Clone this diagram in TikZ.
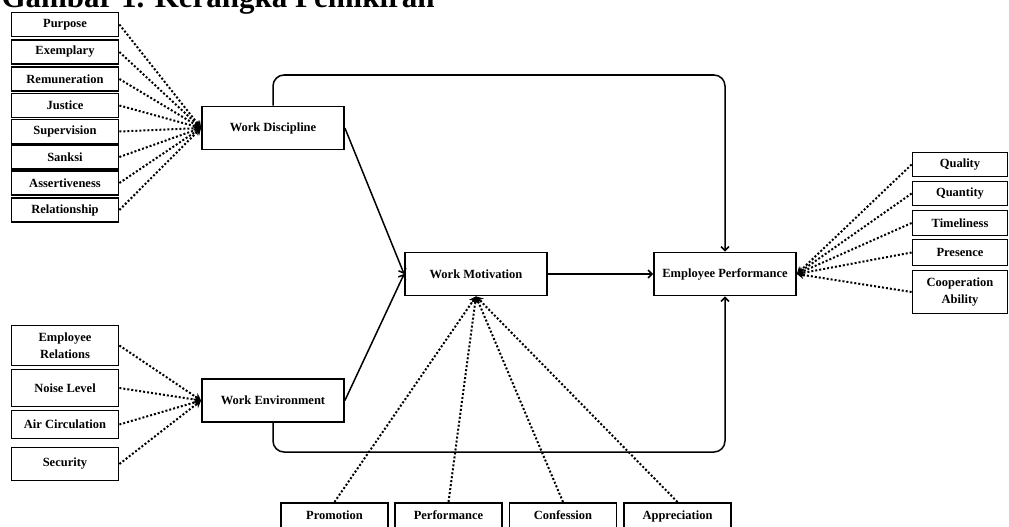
\documentclass[tikz,border=0pt]{standalone}
\usepackage{fontspec}
\setmainfont{Liberation Serif}
\usetikzlibrary{arrows.meta}
\begin{document}
\begin{tikzpicture}[x=1pt,y=-1pt,
        box/.style={draw,line width=1.8pt,inner sep=0pt,align=center,
                font=\bfseries\fontsize{12.5}{17.5}\selectfont},
        ind/.style={box,minimum width=107pt,minimum height=24pt},
        var/.style={box,minimum width=142pt,minimum height=43pt},
        bot/.style={box,minimum width=107pt,anchor=north,inner ysep=4pt,
                text height=13pt,text depth=16pt},
        path/.style={line width=1.5pt,-{Straight Barb[length=4pt,width=8pt]}},
        dots/.style={line width=2pt,dash pattern=on 2pt off 2pt,
                -{Stealth[length=7pt,width=8pt]}}]
                \useasboundingbox (0,0) rectangle (1009,527);
                \clip (0,0) rectangle (1009,527);
                \node[anchor=base west,font=\bfseries\fontsize{31}{31}\selectfont]
                        (title) at (-2,8) {Gambar 1. Kerangka Pemikiran};
                % variables
                \node[var] (wd) at (273,128) {Work Discipline};
                \node[var] (we) at (273,400.5) {Work Environment};
                \node[var] (wm) at (476,274) {Work Motivation};
                \node[var] (ep) at (725,274) {Employee Performance};
                % indicators, work discipline
                \node[ind] (purpose) at (65,24.5) {Purpose};
                \node[ind] (exemplary) at (65,52) {Exemplary};
                \node[ind] (remuneration) at (65,79) {Remuneration};
                \node[ind] (justice) at (65,105.5) {Justice};
                \node[ind] (supervision) at (65,131.5) {Supervision};
                \node[ind] (sanksi) at (65,157) {Sanksi};
                \node[ind] (assertiveness) at (65,183) {Assertiveness};
                \node[ind] (relationship) at (65,210) {Relationship};
                % indicators, work environment
                \node[ind,minimum height=40pt] (relations) at (65,345.5) {Employee\\Relations};
                \node[ind,minimum height=37pt] (noise) at (65,388) {Noise Level};
                \node[ind,minimum height=28pt] (air) at (65,424.5) {Air Circulation};
                \node[ind,minimum height=33pt] (security) at (65,464) {Security};
                % indicators, employee performance
                \node[ind,minimum width=95pt] (quality) at (960,164.5) {Quality};
                \node[ind,minimum width=95pt] (quantity) at (960,193.5) {Quantity};
                \node[ind,minimum width=95pt,minimum height=25pt] (timeliness) at (960,223) {Timeliness};
                \node[ind,minimum width=95pt,minimum height=26pt] (presence) at (960,252.5) {Presence};
                \node[ind,minimum width=95pt,minimum height=43pt] (cooperation) at (960,292) {Cooperation\\Ability};
                % indicators, work motivation
                \node[bot] (promotion) at (334.5,502) {Promotion};
                \node[bot] (performance) at (448.5,502) {Performance};
                \node[bot] (confession) at (563,502) {Confession};
                \node[bot] (appreciation) at (677.5,502) {Appreciation};
                \coordinate (toprail) at (500,75);
                \coordinate (botrail) at (500,452);
                % paths
                \draw[path] (wd.east) to (wm.west);
                \draw[path] (we.east) to (wm.west);
                \draw[path] (wm.east) to (ep.west);
                \draw[path,rounded corners=11pt] (wd.north) |- (toprail) -| (ep.north);
                \draw[path,rounded corners=11pt] (we.south) |- (botrail) -| (ep.south);
                \foreach \i in {purpose,exemplary,remuneration,justice,supervision,sanksi,assertiveness,relationship}
                        \draw[dots] (\i.east) to (wd.west);
                \foreach \i in {relations,noise,air,security}
                        \draw[dots] (\i.east) to (we.west);
                \foreach \i in {quality,quantity,timeliness,presence,cooperation}
                        \draw[dots] (\i.west) to (ep.east);
                \foreach \i in {promotion,performance,confession,appreciation}
                        \draw[dots] (\i.north) to (wm.south);
\end{tikzpicture}
\end{document}
